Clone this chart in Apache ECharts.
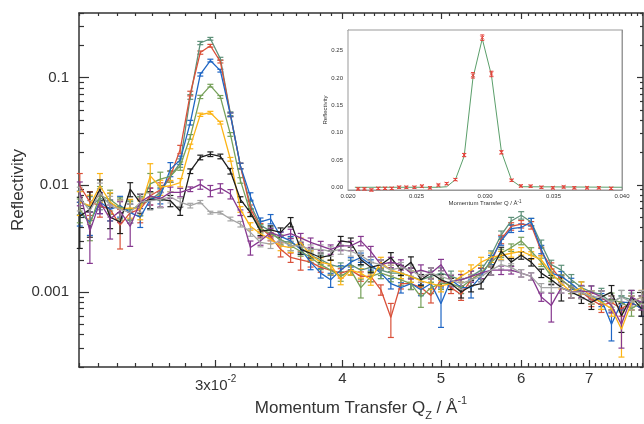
<!DOCTYPE html>
<html>
<head>
<meta charset="utf-8">
<script src="https://cdn.jsdelivr.net/npm/echarts@6/dist/echarts.min.js"></script>
<style>
  html, body { margin: 0; padding: 0; background: #fff; }
  #chart { width: 644px; height: 424px; }
</style>
</head>
<body>
<div id="chart"></div>
<script>
// Q grid of the measured points (1/Å)
const qValues = [
  0.02204, 0.02255, 0.02307, 0.02361, 0.02415, 0.02471, 0.02528, 0.02586, 0.02646, 0.02707,
  0.02768, 0.02832, 0.02897, 0.02964, 0.03032, 0.03102, 0.03173, 0.03246, 0.03321, 0.03398,
  0.03476, 0.03556, 0.03638, 0.03721, 0.03807, 0.03894, 0.03984, 0.04076, 0.04170, 0.04265,
  0.04364, 0.04464, 0.04567, 0.04672, 0.04779, 0.04889, 0.05002, 0.05117, 0.05235, 0.05355,
  0.05478, 0.05604, 0.05733, 0.05865, 0.06000, 0.06138, 0.06280, 0.06424, 0.06572, 0.06723,
  0.06878, 0.07036, 0.07198, 0.07364, 0.07533, 0.07706, 0.07884
];

const rGreenGray = [
  0.0070, 0.0062, 0.0075, 0.0068, 0.0060, 0.0058, 0.0065, 0.0072, 0.0085, 0.0120,
  0.0160, 0.066, 0.210, 0.230, 0.150, 0.046, 0.0150, 0.0065, 0.0042, 0.0037,
  0.0030, 0.0029, 0.0026, 0.0022, 0.0020, 0.0018, 0.0017, 0.0018, 0.0016, 0.0017,
  0.0016, 0.0015, 0.0015, 0.0014, 0.0013, 0.0014, 0.0015, 0.0014, 0.0013, 0.0014,
  0.0016, 0.0022, 0.0034, 0.0046, 0.0052, 0.0045, 0.0028, 0.0018, 0.0016, 0.0013,
  0.0011, 0.0010, 0.00095, 0.0008, 0.0009, 0.00085, 0.0008
];
const rRed = [
  0.0098, 0.0069, 0.0064, 0.0059, 0.0042, 0.0055, 0.0059, 0.0079, 0.0090, 0.0120,
  0.0214, 0.071, 0.171, 0.198, 0.141, 0.045, 0.0150, 0.0060, 0.0040, 0.0033,
  0.0025, 0.0021, 0.0020, 0.0019, 0.0017, 0.0016, 0.0015, 0.0016, 0.0014, 0.0014,
  0.00105, 0.00058, 0.0012, 0.0012, 0.0011, 0.00093, 0.0013, 0.0011, 0.00095, 0.0013,
  0.0015, 0.0019, 0.0031, 0.0041, 0.0043, 0.0042, 0.0024, 0.0017, 0.0013, 0.0011,
  0.0010, 0.00085, 0.00075, 0.0008, 0.0007, 0.0008, 0.0007
];
const rBlue = [
  0.0055, 0.0045, 0.0069, 0.0059, 0.0064, 0.0055, 0.0050, 0.0073, 0.0079, 0.0140,
  0.0170, 0.038, 0.107, 0.144, 0.116, 0.045, 0.0150, 0.0078, 0.0045, 0.0048,
  0.0033, 0.0030, 0.0025, 0.0019, 0.0015, 0.0013, 0.0016, 0.0019, 0.0021, 0.0018,
  0.0015, 0.0012, 0.0011, 0.0012, 0.00105, 0.0012, 0.00078, 0.0013, 0.0011, 0.0011,
  0.0014, 0.0020, 0.0030, 0.0039, 0.0040, 0.0045, 0.0025, 0.0015, 0.0014, 0.0012,
  0.0010, 0.0009, 0.00085, 0.0005, 0.0008, 0.0008, 0.0007
];
const rOlive = [
  0.0059, 0.0043, 0.0079, 0.0073, 0.0062, 0.0059, 0.0064, 0.0102, 0.0113, 0.0120,
  0.0150, 0.028, 0.066, 0.084, 0.066, 0.0295, 0.0110, 0.0055, 0.0039, 0.0035,
  0.0031, 0.0027, 0.0024, 0.0021, 0.0018, 0.0016, 0.0014, 0.0016, 0.0011, 0.0014,
  0.0015, 0.0014, 0.0013, 0.0012, 0.0009, 0.0011, 0.0012, 0.0012, 0.0011, 0.0013,
  0.0015, 0.0019, 0.0023, 0.0026, 0.0030, 0.0024, 0.0019, 0.0014, 0.0013, 0.0011,
  0.0010, 0.0009, 0.0008, 0.00085, 0.0008, 0.0007, 0.0008
];
const rYellow = [
  0.0069, 0.0064, 0.0098, 0.0069, 0.0059, 0.0061, 0.0059, 0.0121, 0.0095, 0.0098,
  0.0105, 0.0228, 0.045, 0.047, 0.038, 0.0173, 0.0059, 0.0041, 0.0035, 0.0031,
  0.0027, 0.0026, 0.0029, 0.0022, 0.0019, 0.0018, 0.0013, 0.0016, 0.0015, 0.0013,
  0.0019, 0.0016, 0.0015, 0.0014, 0.00127, 0.0012, 0.00114, 0.0012, 0.0014, 0.0016,
  0.0019, 0.0021, 0.0022, 0.0023, 0.0024, 0.0022, 0.0020, 0.0015, 0.0012, 0.0010,
  0.0011, 0.0009, 0.0008, 0.0007, 0.00045, 0.0008, 0.0009
];
const rBlack = [
  0.0051, 0.0059, 0.0091, 0.0050, 0.0045, 0.0091, 0.0068, 0.0073, 0.0073, 0.0071,
  0.0057, 0.0134, 0.0180, 0.0193, 0.0184, 0.0134, 0.0073, 0.0055, 0.0037, 0.0038,
  0.0036, 0.0045, 0.0025, 0.0023, 0.0021, 0.0022, 0.0030, 0.0029, 0.0020, 0.0017,
  0.0018, 0.0021, 0.0016, 0.0019, 0.0013, 0.0015, 0.0013, 0.0012, 0.0010, 0.00114,
  0.0012, 0.0016, 0.0024, 0.0019, 0.0022, 0.0019, 0.0015, 0.0013, 0.0011, 0.0010,
  0.0009, 0.0008, 0.0009, 0.0010, 0.0006, 0.0009, 0.0007
];
const rPurple = [
  0.0085, 0.0037, 0.0069, 0.0048, 0.0057, 0.0041, 0.0069, 0.0079, 0.0074, 0.0085,
  0.0085, 0.0091, 0.0101, 0.0088, 0.0093, 0.0082, 0.0055, 0.0026, 0.0030, 0.0036,
  0.0033, 0.0035, 0.0032, 0.0029, 0.0027, 0.0025, 0.0027, 0.0027, 0.0030, 0.0024,
  0.0018, 0.0019, 0.0018, 0.0015, 0.0016, 0.0015, 0.0018, 0.00127, 0.0013, 0.0014,
  0.0015, 0.0016, 0.0016, 0.0016, 0.0015, 0.0014, 0.0009, 0.00075, 0.0011, 0.0010,
  0.00102, 0.0010, 0.0009, 0.00075, 0.0005, 0.0009, 0.0008
];
const rGray = [
  0.0076, 0.0057, 0.0085, 0.0064, 0.0059, 0.0055, 0.0069, 0.0071, 0.0073, 0.0077,
  0.0069, 0.0064, 0.0069, 0.0055, 0.0055, 0.0048, 0.0043, 0.0036, 0.0029, 0.0028,
  0.0030, 0.0027, 0.0027, 0.0025, 0.0025, 0.0024, 0.0025, 0.0024, 0.0022, 0.0019,
  0.0018, 0.0016, 0.0017, 0.0016, 0.0014, 0.0015, 0.0014, 0.0013, 0.0012, 0.0013,
  0.0014, 0.0016, 0.0018, 0.0017, 0.0015, 0.0014, 0.0011, 0.0011, 0.0011, 0.0010,
  0.0010, 0.0009, 0.0009, 0.0008, 0.0009, 0.0008, 0.0009
];

// typical relative error at each Q, plus the longer bars seen per curve [index, relErr]
const relErr = [
  0.25, 0.25, 0.22, 0.22, 0.22, 0.2, 0.2, 0.18, 0.16, 0.12,
  0.09, 0.05, 0.035, 0.03, 0.03, 0.04, 0.06, 0.08, 0.09, 0.09,
  0.1, 0.1, 0.1, 0.1, 0.1, 0.1, 0.1, 0.1, 0.1, 0.11,
  0.11, 0.11, 0.11, 0.12, 0.12, 0.12, 0.12, 0.12, 0.12, 0.12,
  0.11, 0.1, 0.09, 0.08, 0.08, 0.08, 0.09, 0.1, 0.11, 0.12,
  0.13, 0.14, 0.14, 0.15, 0.15, 0.15, 0.15
];
const wideGreenGray = [];
const wideRed = [[0, 0.3], [4, 0.4], [6, 0.25], [20, 0.15], [22, 0.2], [31, 0.35], [35, 0.15]];
const wideBlue = [[6, 0.2], [9, 0.15], [19, 0.1], [23, 0.15], [25, 0.15], [36, 0.4], [39, 0.2], [53, 0.3]];
const wideOlive = [[1, 0.3], [7, 0.25], [28, 0.2], [34, 0.2]];
const wideYellow = [[2, 0.3], [7, 0.3], [54, 0.45]];
const wideBlack = [[0, 0.5], [1, 0.45], [5, 0.15], [12, 0.05], [13, 0.05], [14, 0.05], [15, 0.06], [48, 0.25], [54, 0.3]];
const widePurple = [[1, 0.5], [3, 0.35], [5, 0.35], [12, 0.1], [13, 0.12], [14, 0.1], [15, 0.1], [17, 0.15], [47, 0.3], [54, 0.4]];
const wideGray = [];

// axis ticks and labels
const xLabelValues = [0.03, 0.04, 0.05, 0.06, 0.07];
const xLabelTexts = ['3x10', '4', '5', '6', '7'];
const xLabelSups = ['-2', '', '', '', ''];
const yLabelValues = [0.001, 0.01, 0.1];
const yLabelTexts = ['0.001', '0.01', '0.1'];

// inset: peak of one curve on a linear scale
const insetQ = [
  0.02074, 0.0212, 0.02171, 0.02221, 0.0227, 0.02319, 0.02373, 0.02426, 0.02485, 0.02539,
  0.02598, 0.0266, 0.0272, 0.02784, 0.02848, 0.02912, 0.0298, 0.03047, 0.0312, 0.03194,
  0.03262, 0.03333, 0.03412, 0.03495, 0.03574, 0.03652, 0.03745, 0.03831, 0.03921
];
const insetR = [
  -0.003, -0.003, -0.005, -0.002, -0.002, -0.002, 0.0, 0.0, 0.0, 0.002,
  -0.001, 0.004, 0.0066, 0.014, 0.059, 0.205, 0.274, 0.2075, 0.064, 0.0128,
  0.0024, 0.002, 0.0, -0.001, 0.0005, -0.001, -0.001, -0.001, -0.002
];
const insetErr = [
  0.002, 0.002, 0.002, 0.002, 0.002, 0.002, 0.002, 0.002, 0.002, 0.002,
  0.002, 0.002, 0.002, 0.002, 0.003, 0.005, 0.005, 0.005, 0.003, 0.002,
  0.002, 0.002, 0.002, 0.002, 0.002, 0.002, 0.002, 0.002, 0.002
];
const fitQ = [0.0205, 0.0266, 0.0272, 0.02784, 0.02848, 0.02912, 0.0298, 0.03047, 0.0312, 0.03194, 0.03262, 0.040];
const fitR = [0.0, 0.0, 0.001, 0.014, 0.057, 0.2, 0.272, 0.205, 0.065, 0.013, 0.001, 0.0];
const insetYTicks = [0, 0.05, 0.10, 0.15, 0.20, 0.25];

const lg = (v) => Math.log10(v);
const font = "'Liberation Sans', Arial, Helvetica, sans-serif";
const ink = '#333';

const curves = [
  { name: 'gg', color: '#5f917a', r: rGreenGray, wide: wideGreenGray },
  { name: 'red', color: '#d9513a', r: rRed, wide: wideRed },
  { name: 'blue', color: '#1f66c4', r: rBlue, wide: wideBlue },
  { name: 'olive', color: '#76a05a', r: rOlive, wide: wideOlive },
  { name: 'yellow', color: '#fcb415', r: rYellow, wide: wideYellow },
  { name: 'black', color: '#1e1e1e', r: rBlack, wide: wideBlack },
  { name: 'purple', color: '#86388f', r: rPurple, wide: widePurple },
  { name: 'gray', color: '#a5a5a5', r: rGray, wide: wideGray },
];

// minor ticks of the log axes
const xMinor = [];
for (let m = 22; m <= 79; m++) {
  if (m % 10 !== 0) xMinor.push(lg(m / 1000));
}
const yMinor = [];
[1e-4, 1e-3, 1e-2, 1e-1].forEach((d) => {
  for (let k = 2; k <= 9; k++) {
    const v = k * d;
    if (v >= 0.0002 && v <= 0.4) yMinor.push(lg(v));
  }
});

function errData(r, wide) {
  const extra = {};
  wide.forEach(([i, e]) => { extra[i] = e; });
  return qValues.map((q, i) => {
    const e = extra[i] !== undefined ? extra[i] : relErr[i];
    return [lg(q), lg(r[i] * (1 - e)), lg(r[i] * (1 + e))];
  });
}

function makeErrRenderer(color) {
  return function (params, api) {
    const x = api.value(0);
    const lo = api.coord([x, api.value(1)]);
    const hi = api.coord([x, api.value(2)]);
    const w = 3;
    const style = { stroke: color, lineWidth: 1.2 };
    return {
      type: 'group',
      children: [
        { type: 'line', shape: { x1: lo[0], y1: lo[1], x2: hi[0], y2: hi[1] }, style },
        { type: 'line', shape: { x1: lo[0] - w, y1: lo[1], x2: lo[0] + w, y2: lo[1] }, style },
        { type: 'line', shape: { x1: hi[0] - w, y1: hi[1], x2: hi[0] + w, y2: hi[1] }, style },
      ],
    };
  };
}

function renderInsetPoint(params, api) {
  const q = api.value(0);
  const p = api.coord([q, api.value(1)]);
  const lo = api.coord([q, api.value(2)]);
  const hi = api.coord([q, api.value(3)]);
  const style = { stroke: '#e5413a', lineWidth: 1 };
  const w = 2;
  const c = 1.8;
  return {
    type: 'group',
    children: [
      { type: 'line', shape: { x1: lo[0], y1: lo[1], x2: hi[0], y2: hi[1] }, style },
      { type: 'line', shape: { x1: lo[0] - w, y1: lo[1], x2: lo[0] + w, y2: lo[1] }, style },
      { type: 'line', shape: { x1: hi[0] - w, y1: hi[1], x2: hi[0] + w, y2: hi[1] }, style },
      { type: 'line', shape: { x1: p[0] - c, y1: p[1] - c, x2: p[0] + c, y2: p[1] + c }, style },
      { type: 'line', shape: { x1: p[0] - c, y1: p[1] + c, x2: p[0] + c, y2: p[1] - c }, style },
    ],
  };
}

function fmtX(v) {
  const k = xLabelValues.findIndex((q) => Math.abs(lg(q) - v) < 1e-6);
  if (k < 0) return '';
  return xLabelSups[k] ? `{b|${xLabelTexts[k]}}{sup|${xLabelSups[k]}}` : xLabelTexts[k];
}
function fmtY(v) {
  const k = yLabelValues.findIndex((r) => Math.abs(lg(r) - v) < 1e-6);
  return k < 0 ? '' : yLabelTexts[k];
}

const xMin = lg(0.022);
const xMax = lg(0.0791);
const yMin = lg(0.0002);
const yMax = lg(0.4);
const mainLine = { show: true, onZero: false, lineStyle: { color: ink, width: 1.5 } };
const noLine = { show: false, onZero: false };
const tickStyle = { color: ink, width: 1.2 };

function logAxis(extra) {
  return Object.assign({
    gridIndex: 0, type: 'value', splitLine: { show: false },
    axisLabel: { show: false }, axisLine: noLine,
  }, extra);
}

const xAxes = [
  logAxis({
    min: xMin, max: xMax, position: 'bottom', axisLine: mainLine,
    axisTick: { show: true, inside: true, length: 7, customValues: xLabelValues.map(lg), lineStyle: tickStyle },
    axisLabel: {
      show: true, customValues: xLabelValues.map(lg), formatter: fmtX, margin: 4,
      color: ink, fontSize: 15, fontFamily: font,
      rich: {
        b: { fontSize: 15, lineHeight: 22, verticalAlign: 'bottom', color: ink, fontFamily: font },
        sup: { fontSize: 10, lineHeight: 10, verticalAlign: 'top', padding: [3, 0, 0, 0], color: ink, fontFamily: font },
      },
    },
    name: 'Momentum Transfer Q{sub|Z} / Å{sup|-1}', nameLocation: 'middle', nameGap: 28,
    nameMoveOverlap: false,
    nameTextStyle: {
      color: ink, fontSize: 17, fontFamily: font, lineHeight: 26,
      rich: {
        sub: { fontSize: 11, lineHeight: 20, verticalAlign: 'bottom', color: ink, fontFamily: font },
        sup: { fontSize: 11, lineHeight: 11, verticalAlign: 'top', color: ink, fontFamily: font },
      },
    },
  }),
  logAxis({
    min: xMin, max: xMax, position: 'bottom',
    axisTick: { show: true, inside: true, length: 4, customValues: xMinor, lineStyle: tickStyle },
  }),
  logAxis({
    min: xMin, max: xMax, position: 'top', axisLine: mainLine,
    axisTick: { show: true, inside: true, length: 6, customValues: xLabelValues.map(lg), lineStyle: tickStyle },
  }),
  logAxis({
    min: xMin, max: xMax, position: 'top',
    axisTick: { show: true, inside: true, length: 3, customValues: xMinor, lineStyle: tickStyle },
  }),
  {
    gridIndex: 1, type: 'value', min: 0.020, max: 0.040, interval: 0.005, position: 'bottom',
    axisLine: { show: true, onZero: false, lineStyle: { color: '#999', width: 1 } },
    axisTick: { show: true, inside: true, length: 3, lineStyle: { color: '#888', width: 0.8 } },
    minorTick: { show: true, splitNumber: 10, length: 1.5, lineStyle: { color: '#888', width: 0.8 } },
    axisLabel: { show: true, margin: 3, fontSize: 6, color: ink, fontFamily: font, formatter: (v) => v.toFixed(3) },
    splitLine: { show: false },
    name: 'Momentum Transfer Q / Å{sup|-1}', nameLocation: 'middle', nameGap: 9,
    nameMoveOverlap: false,
    nameTextStyle: {
      fontSize: 6, color: ink, fontFamily: font, lineHeight: 8,
      rich: { sup: { fontSize: 4.5, lineHeight: 4.5, verticalAlign: 'top', color: ink, fontFamily: font } },
    },
  },
  {
    gridIndex: 1, type: 'value', min: 0.020, max: 0.040, interval: 0.005, position: 'top',
    axisLine: { show: true, onZero: false, lineStyle: { color: '#999', width: 1 } },
    axisTick: { show: true, inside: true, length: 3, lineStyle: { color: '#888', width: 0.8 } },
    minorTick: { show: true, splitNumber: 10, length: 1.5, lineStyle: { color: '#888', width: 0.8 } },
    axisLabel: { show: false }, splitLine: { show: false },
  },
];

const yAxes = [
  logAxis({
    min: yMin, max: yMax, position: 'left', axisLine: mainLine,
    axisTick: { show: true, inside: true, length: 10, customValues: yLabelValues.map(lg), lineStyle: tickStyle },
    axisLabel: {
      show: true, customValues: yLabelValues.map(lg), formatter: fmtY, margin: 10,
      color: ink, fontSize: 15, fontFamily: font,
    },
    name: 'Reflectivity', nameLocation: 'middle', nameGap: 52, nameMoveOverlap: false,
    nameTextStyle: { color: ink, fontSize: 17, fontFamily: font },
  }),
  logAxis({
    min: yMin, max: yMax, position: 'left',
    axisTick: { show: true, inside: true, length: 5, customValues: yMinor, lineStyle: tickStyle },
  }),
  logAxis({
    min: yMin, max: yMax, position: 'right', axisLine: mainLine,
    axisTick: { show: true, inside: true, length: 6, customValues: yLabelValues.map(lg), lineStyle: tickStyle },
  }),
  logAxis({
    min: yMin, max: yMax, position: 'right',
    axisTick: { show: true, inside: true, length: 3, customValues: yMinor, lineStyle: tickStyle },
  }),
  {
    gridIndex: 1, type: 'value', min: -0.005, max: 0.288, position: 'left',
    axisLine: { show: true, onZero: false, lineStyle: { color: '#999', width: 1 } },
    axisTick: { show: true, inside: true, length: 3, customValues: insetYTicks, lineStyle: { color: '#888', width: 0.8 } },
    axisLabel: {
      show: true, customValues: insetYTicks, margin: 5, fontSize: 6, color: ink, fontFamily: font,
      formatter: (v) => v.toFixed(2),
    },
    splitLine: { show: false },
    name: 'Reflectivity', nameLocation: 'middle', nameGap: 20, nameMoveOverlap: false,
    nameTextStyle: { fontSize: 6, color: ink, fontFamily: font },
  },
  {
    gridIndex: 1, type: 'value', min: -0.005, max: 0.288, position: 'right',
    axisLine: { show: true, onZero: false, lineStyle: { color: '#999', width: 1 } },
    axisTick: { show: true, inside: true, length: 3, customValues: insetYTicks, lineStyle: { color: '#888', width: 0.8 } },
    axisLabel: { show: false }, splitLine: { show: false },
  },
];

const series = [];
curves.forEach((c) => {
  series.push({
    type: 'custom', name: c.name, xAxisIndex: 0, yAxisIndex: 0,
    renderItem: makeErrRenderer(c.color), data: errData(c.r, c.wide),
    encode: { x: 0, y: [1, 2] }, silent: true,
  });
  series.push({
    type: 'line', name: c.name, xAxisIndex: 0, yAxisIndex: 0,
    data: qValues.map((q, i) => [lg(q), lg(c.r[i])]),
    showSymbol: false, silent: true,
    lineStyle: { color: c.color, width: 1.3 }, itemStyle: { color: c.color },
  });
});
series.push({
  type: 'line', xAxisIndex: 4, yAxisIndex: 4,
  data: fitQ.map((q, i) => [q, fitR[i]]),
  showSymbol: false, silent: true,
  lineStyle: { color: '#5b9f6b', width: 1 }, itemStyle: { color: '#5b9f6b' }, z: 5,
});
series.push({
  type: 'custom', xAxisIndex: 4, yAxisIndex: 4, renderItem: renderInsetPoint,
  data: insetQ.map((q, i) => [q, insetR[i], insetR[i] - insetErr[i], insetR[i] + insetErr[i]]),
  encode: { x: 0, y: [1, 2, 3] }, silent: true, z: 6,
});

const chart = echarts.init(document.getElementById('chart'));
chart.setOption({
  animation: false,
  backgroundColor: '#fff',
  grid: [
    { left: 79, right: 1, top: 13, bottom: 57, outerBoundsMode: 'none' },
    {
      left: 348, top: 30, width: 274, height: 160, outerBoundsMode: 'none',
      show: true, backgroundColor: '#fff', borderColor: '#999', borderWidth: 1, z: 4,
    },
  ],
  xAxis: xAxes,
  yAxis: yAxes,
  series,
});
</script>
</body>
</html>
